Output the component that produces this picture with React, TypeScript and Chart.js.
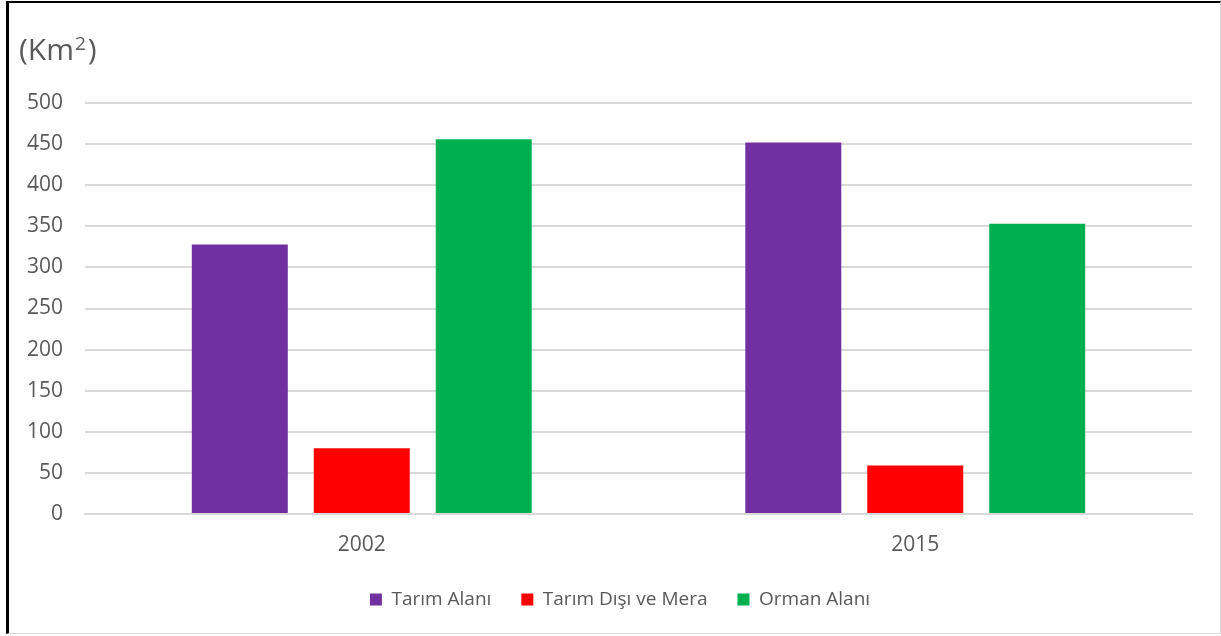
import React, { useEffect, useRef } from "react";
import { Chart, registerables } from "chart.js";

Chart.register(...registerables);

const categories = ["2002", "2015"];
const tarimAlani = [328, 452];
const tarimDisi = [80, 59];
const ormanAlani = [456, 353];
const seriesNames = ["Tarım Alanı", "Tarım Dışı ve Mera", "Orman Alanı"];
const seriesColors = ["#7030A0", "#FF0000", "#00B050"];
const unitLabel = ["(Km", "2", ")"];

const FONT = "'Open Sans', 'Noto Sans', sans-serif";
const TEXT = "#595959";

const unitTitle = {
  id: "unitTitle",
  afterLayout(chart: any) {
    if (chart.legend) {
      chart.legend.left += 19;
      chart.legend.right += 19;
    }
  },
  afterDraw(chart: any) {
    const ctx = chart.ctx;
    ctx.save();
    ctx.fillStyle = TEXT;
    ctx.textBaseline = "alphabetic";
    ctx.textAlign = "left";
    let x = 19;
    const base = 60;
    ctx.font = `30px ${FONT}`;
    ctx.fillText(unitLabel[0], x, base);
    x += ctx.measureText(unitLabel[0]).width + 1;
    ctx.font = `19px ${FONT}`;
    ctx.fillText(unitLabel[1], x, base - 10);
    x += ctx.measureText(unitLabel[1]).width + 2;
    ctx.font = `30px ${FONT}`;
    ctx.fillText(unitLabel[2], x, base);
    ctx.restore();
  },
};

export default function App() {
  const ref = useRef<HTMLCanvasElement | null>(null);
  useEffect(() => {
    document.body.style.margin = "0";
    const chart = new Chart(ref.current as HTMLCanvasElement, {
      type: "bar",
      data: {
        labels: categories,
        datasets: [tarimAlani, tarimDisi, ormanAlani].map((d, i) => ({
          label: seriesNames[i],
          data: d,
          backgroundColor: seriesColors[i],
          borderWidth: 0,
          categoryPercentage: 0.661,
          barPercentage: 0.787,
        })),
      },
      options: {
        animation: false,
        responsive: false,
        maintainAspectRatio: false,
        layout: { padding: { left: 10, right: 29, top: 103, bottom: 17 } },
        plugins: {
          title: { display: false },
          tooltip: { enabled: false },
          legend: {
            position: "bottom",
            labels: {
              boxWidth: 12,
              boxHeight: 12,
              padding: 30,
              color: TEXT,
              font: { family: FONT, size: 19 },
            },
          },
        },
        scales: {
          x: {
            grid: { display: false, drawTicks: false },
            border: { display: true, color: "#d9d9d9", width: 2 },
            ticks: { color: TEXT, font: { family: FONT, size: 21 }, padding: 18 },
            afterFit: (s: any) => {
              s.height = 46;
            },
          },
          y: {
            min: 0,
            max: 500,
            ticks: { stepSize: 50, color: TEXT, font: { family: FONT, size: 21 }, padding: 22 },
            grid: { color: "#d9d9d9", lineWidth: 2, drawTicks: false },
            border: { display: false },
            afterFit: (s: any) => {
              s.width = 75;
            },
          },
        },
      },
      plugins: [unitTitle],
    });
    return () => chart.destroy();
  }, []);
  return (
    <div style={{ position: "relative", width: 1221, height: 636, background: "#fff" }}>
      <canvas ref={ref} width={1221} height={636} style={{ display: "block" }} />
      <div
        style={{
          position: "absolute",
          left: 6,
          top: 1,
          width: 1215,
          height: 633,
          boxSizing: "border-box",
          borderLeft: "3px solid #000",
          borderTop: "2px solid #000",
          borderRight: "1px solid #d9d9d9",
          borderBottom: "1px solid #d9d9d9",
          pointerEvents: "none",
        }}
      />
    </div>
  );
}
